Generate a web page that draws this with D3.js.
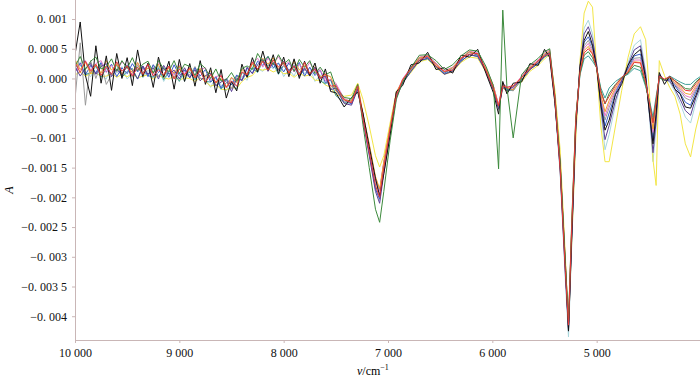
<!DOCTYPE html>
<html>
<head>
<meta charset="utf-8">
<script src="https://cdn.jsdelivr.net/npm/d3@7"></script>
<style>
  body { margin: 0; background: #fff; }
  svg { display: block; }
</style>
</head>
<body>
<svg id="canvas" width="700" height="377"></svg>
<script>
// wavenumber grid, cm-1 (denser where the spectra are noisy)
const wavenumbers = [10000,9950,9900,9850,9800,9750,9700,9650,9600,9550,9500,9450,9400,9350,9300,9250,9200,9150,9100,9050,
  9000,8950,8900,8850,8800,8750,8700,8650,8600,8550,8500,8450,8400,8350,8300,8250,8200,8150,8100,8050,
  8000,7950,7900,7850,7800,7750,7700,7650,7600,7550,7500,
  7420,7350,7290,7240,7180,7120,7080,7040,6980,6920,6860,6780,6700,6620,6540,6460,6380,6300,6220,6140,6060,5990,5940,5900,5860,5800,5720,5640,5560,5500,5450,5400,5350,5300,5270,5240,5200,
  5160,5120,5080,5040,5000,4960,4920,4880,4820,4760,4700,4640,4580,4530,4490,4460,4430,4400,4350,4300,4250,4200,4150,4100,4050,4000];

// absorbance values, in units of 1e-4
const unit = 1e-4;

const lightcyan = [1.1,2.8,1.2,0.3,2.1,0.6,-0.1,2.3,0.9,2.0,-0.1,0.9,2.5,0.1,1.4,0.2,2.1,-0.5,1.0,0.2,
  1.7,-0.5,1.3,-0.3,1.6,-0.2,-1.5,0.2,-1.1,-2.1,0.2,-1.4,0.4,-0.3,2.4,1.6,1.2,2.4,1.6,2.6,
  0.3,1.6,0.4,2.4,0.8,1.8,-0.5,0.6,-1.0,-0.1,-2.1,
  -4.0,-4.3,-1.7,-6.6,-12.4,-18.2,-20.5,-15.3,-9.0,-2.9,-0.7,1.3,3.0,3.3,2.1,0.8,1.3,3.0,3.9,3.8,1.2,-1.7,-5.0,-1.4,-2.0,-1.3,-0.2,1.6,2.6,3.7,4.2,-4.0,-16.0,-34.0,-43.5,-28.5,-9.0,
  2.5,8.5,9.8,7.5,2.4,-5.5,-12.0,-9.4,-4.4,-0.5,2.6,5.6,6.5,1.2,-7.3,-14.0,-8.2,0.7,-0.3,-0.6,-2.2,-4.2,-6.5,-7.5,-4.1,-1.5];

const yellow = [0.6,1.1,0.4,0.8,1.0,0.3,0.4,0.8,0.2,0.7,0.3,0.8,0.1,0.4,0.6,-0.1,0.5,0.1,-0.1,0.4,
  -0.3,0.1,0.0,-0.5,0.1,-0.5,-1.3,-1.0,-1.8,-1.9,-1.5,-1.7,-0.5,0.2,0.5,1.6,1.4,1.6,1.1,1.5,
  0.8,0.9,0.2,0.9,0.4,0.6,-0.3,-0.3,-1.1,-1.5,-2.8,
  -3.0,-2.8,-0.8,-3.5,-8.0,-13.0,-14.9,-13.0,-7.5,-2.2,-0.6,1.0,2.8,3.2,1.8,0.7,1.1,2.7,3.6,3.4,1.0,-1.8,-4.9,-1.6,-2.2,-1.2,-0.6,1.2,2.2,3.3,4.0,-2.0,-12.0,-30.0,-42.0,-28.0,-10.0,
  3.0,11.0,13.0,12.0,2.0,-8.0,-14.0,-14.0,-8.0,-2.0,3.5,7.5,8.7,6.5,-3.6,-13.7,-18.0,3.0,0.5,-1.5,-3.0,-6.0,-11.0,-13.2,-8.5,-5.0];

const teal = [1.8,2.4,0.6,1.0,2.1,0.2,1.7,0.7,2.3,0.2,1.2,1.7,-0.1,1.9,0.5,0.2,1.8,-0.2,1.2,0.9,
  -0.5,1.4,1.0,-0.2,1.4,-0.5,-0.6,0.2,-1.8,-0.7,-1.0,-1.8,1.0,0.3,1.8,1.0,3.0,1.8,2.6,0.7,
  2.2,0.9,2.0,0.3,1.6,0.7,1.6,-0.4,-0.9,-0.2,-2.9,
  -4.0,-3.9,-1.7,-6.0,-11.2,-16.8,-18.8,-14.3,-8.4,-2.9,-0.8,1.2,3.0,3.3,2.0,0.8,1.3,2.9,4.0,3.7,1.2,-1.8,-4.9,-1.3,-2.0,-2.0,-0.3,1.5,2.5,3.6,4.1,-3.8,-15.0,-32.0,-41.5,-26.5,-7.5,
  0.6,3.3,3.8,2.9,1.8,-1.6,-3.3,-1.6,-0.5,0.2,0.7,1.7,1.3,-1.4,-4.0,-6.5,-3.0,0.1,-0.3,0.4,-0.1,-0.6,-1.0,-1.0,-0.2,0.4];

const grey = [-3.5,6.0,-4.5,3.0,0.0,2.5,-1.0,0.6,2.5,0.8,1.9,0.2,2.2,1.2,0.6,2.3,0.3,1.5,1.7,0.1,
  1.9,0.4,0.6,2.0,0.0,-0.1,0.7,-1.3,-0.1,-0.6,-1.7,0.4,-0.2,0.9,2.8,1.1,3.0,2.1,3.2,1.3,
  2.2,1.1,2.7,0.9,1.9,0.5,1.9,0.2,0.2,-1.8,-1.0,
  -4.0,-3.7,-1.6,-6.3,-11.8,-17.2,-19.6,-14.2,-9.1,-2.6,-0.3,1.4,3.4,3.5,2.4,1.1,1.5,3.3,4.4,4.0,1.4,-1.6,-4.9,-1.2,-1.7,-2.1,0.1,1.8,2.7,4.1,4.4,-3.5,-14.7,-31.8,-41.8,-26.0,-7.0,
  1.4,5.5,6.4,4.9,2.0,-3.3,-7.0,-4.9,-2.2,-0.1,1.5,3.4,3.5,-0.3,-5.4,-9.6,-5.2,0.3,-0.3,0.0,-1.0,-2.1,-3.3,-3.7,-1.9,-0.4];

const blue = [1.0,2.6,0.6,2.2,0.9,2.7,1.1,2.4,0.3,1.8,0.8,2.5,1.1,2.1,0.3,2.3,1.0,1.8,0.2,2.3,
  0.5,1.4,0.1,1.8,0.4,1.5,-0.6,0.3,-1.6,0.0,-1.1,0.6,-0.4,1.7,0.9,2.9,2.2,3.7,1.8,2.6,
  1.1,2.6,1.2,2.7,0.4,1.9,0.5,1.4,-0.7,-0.2,-1.9,
  -3.5,-4.3,-1.2,-6.7,-12.5,-18.6,-20.3,-14.8,-8.4,-2.4,-0.6,1.6,3.5,3.5,2.5,0.9,1.8,3.1,4.5,3.9,1.7,-1.3,-4.5,-0.9,-1.9,-1.8,0.2,1.7,2.9,3.9,4.4,-3.2,-14.5,-32.0,-42.0,-26.5,-7.5,
  1.6,6.1,7.0,5.4,2.1,-3.7,-8.0,-5.8,-2.6,-0.2,1.7,3.8,4.1,0.0,-5.8,-10.5,-5.8,0.4,-0.3,-0.1,-1.2,-2.5,-4.0,-4.5,-2.3,-0.6];

const pink = [1.1,2.3,3.0,1.4,2.5,3.0,1.0,2.2,1.2,2.8,2.0,0.6,2.6,1.4,2.3,0.7,2.7,1.4,2.0,0.6,
  2.3,0.8,2.0,0.4,1.5,1.8,-0.2,0.3,0.6,-1.5,0.1,-0.4,1.6,0.8,2.5,3.4,1.9,3.4,2.3,3.7,
  2.1,2.8,1.1,2.4,1.3,2.7,1.1,1.5,-0.4,-0.2,-0.8,
  -3.4,-3.9,-1.2,-6.2,-11.6,-17.0,-19.0,-14.0,-8.6,-2.5,-0.1,1.9,3.6,3.9,2.6,1.3,1.9,3.5,4.6,4.3,1.8,-1.2,-4.4,-0.8,-1.4,-1.6,0.4,2.1,3.1,4.3,4.8,-3.2,-14.0,-31.0,-41.2,-25.5,-6.6,
  1.2,5.1,5.9,4.5,2.0,-3.0,-6.3,-4.3,-1.9,-0.1,1.3,3.1,3.1,-0.5,-5.2,-9.1,-4.8,0.3,-0.3,0.1,-0.8,-1.8,-2.9,-3.2,-1.6,-0.2];

const orange = [3.2,1.5,2.7,0.8,2.3,0.9,3.0,1.4,2.4,0.7,2.1,1.0,2.7,0.7,1.8,0.9,2.4,0.2,1.9,0.9,
  2.1,0.3,1.6,0.1,1.7,0.2,1.3,-0.8,0.0,-1.5,0.2,-0.7,1.5,0.7,2.5,1.3,3.4,2.4,3.5,1.6,
  2.6,0.9,3.0,1.4,2.3,0.8,2.0,0.3,0.6,0.3,-2.1,
  -3.6,-3.8,-1.0,-6.0,-11.0,-16.5,-18.6,-14.0,-8.2,-2.4,-0.3,1.6,3.5,3.7,2.4,1.1,1.8,3.4,4.5,4.1,1.6,-1.3,-4.6,-1.0,-1.6,-1.9,0.1,1.9,2.9,4.1,4.6,-3.0,-13.8,-31.0,-41.0,-25.0,-6.5,
  1.1,4.7,5.4,4.2,1.9,-2.7,-5.6,-3.7,-1.6,0.0,1.2,2.8,2.7,-0.7,-4.9,-8.5,-4.4,0.2,-0.3,0.2,-0.7,-1.5,-2.5,-2.7,-1.3,-0.1];

const purple = [2.0,0.4,1.7,2.5,0.7,2.0,2.5,0.3,1.6,0.5,2.3,1.4,-0.1,2.1,0.7,1.8,-0.1,2.2,0.7,1.4,
  -0.1,1.8,0.1,1.5,-0.4,0.5,0.9,-1.2,-0.6,-0.1,-2.2,0.0,-0.3,1.9,0.8,2.3,3.2,1.2,2.7,1.4,
  2.9,1.3,2.2,0.4,1.7,0.4,1.9,0.1,0.4,-1.9,-1.6,
  -4.2,-4.5,-1.8,-7.0,-13.0,-19.0,-21.0,-16.0,-9.5,-3.2,-0.8,1.2,3.0,3.4,2.0,0.7,1.2,2.9,4.0,3.7,1.1,-1.9,-5.2,-1.5,-2.1,-1.4,-0.3,1.5,2.6,3.7,4.3,-3.8,-15.5,-33.0,-42.5,-27.5,-8.0,
  2.1,7.5,8.7,6.6,2.3,-4.8,-10.3,-7.9,-3.7,-0.4,2.2,4.8,5.5,0.7,-6.7,-12.5,-7.2,0.6,-0.3,-0.4,-1.8,-3.5,-5.4,-6.2,-3.3,-1.1];

const black = [4.0,9.5,0.5,-3.0,5.5,-0.8,3.8,-2.0,4.2,0.0,3.5,-1.2,4.8,0.3,2.6,-1.5,3.6,0.2,2.9,-1.8,
  3.2,-0.5,2.5,-1.3,3.0,-1.0,1.8,-2.4,1.5,-3.3,-0.5,-2.1,2.4,0.2,3.5,1.1,4.6,1.4,4.0,0.8,
  3.6,0.3,3.3,0.0,2.9,0.5,2.6,-0.8,1.6,-2.2,-2.4,
  -4.8,-3.2,-2.3,-5.8,-11.5,-16.8,-19.8,-16.0,-9.6,-2.2,-1.2,2.3,2.6,4.4,1.5,1.8,0.9,3.9,3.6,4.9,0.8,-2.4,-6.0,-0.5,-2.6,-0.8,-0.6,2.5,2.2,4.9,3.5,-4.2,-14.5,-31.5,-42.5,-27.0,-8.0,
  2.0,6.4,7.9,5.6,1.8,-4.4,-8.7,-7.0,-2.7,-1.0,2.2,4.0,4.9,0.0,-6.5,-11.0,-6.0,1.0,-1.0,0.4,-1.8,-2.6,-4.8,-5.0,-2.9,-0.6];

const green = [2.0,3.7,1.5,2.9,3.6,1.6,2.0,3.3,1.2,3.0,1.7,3.5,1.3,2.4,2.9,0.9,3.0,1.6,1.2,3.0,
  0.8,2.4,2.0,0.5,2.5,1.7,0.0,1.6,-0.4,-0.2,1.0,-0.5,1.7,2.1,1.5,4.2,2.8,3.7,2.3,4.0,
  2.4,3.2,1.2,3.2,1.9,3.0,0.8,1.9,0.6,1.1,-1.5,
  -3.2,-3.4,-1.0,-7.8,-15.0,-22.0,-24.2,-19.0,-10.5,-3.5,-0.6,1.8,3.9,4.0,3.0,1.5,2.3,3.8,4.8,4.6,2.0,-1.2,-15.2,11.5,-1.5,-10.0,0.6,2.3,3.4,4.5,5.0,-3.0,-14.0,-31.0,-41.0,-24.5,-6.5,
  0.8,3.9,4.5,3.5,1.8,-2.0,-4.3,-2.5,-1.0,0.1,0.9,2.2,1.9,-1.1,-4.4,-7.3,-3.6,0.2,-0.3,0.3,-0.4,-1.0,-1.7,-1.8,-0.6,0.2];

const red = [2.7,1.0,2.9,1.2,2.4,0.5,2.0,0.7,2.8,1.2,2.1,0.4,1.9,0.7,2.4,0.4,1.5,0.6,2.1,-0.1,
  1.6,0.6,1.8,0.1,1.3,-0.6,0.7,-0.7,0.5,-1.5,-0.4,-1.3,1.1,0.6,2.8,1.6,2.9,1.4,3.1,1.9,
  2.8,0.9,2.1,0.6,2.7,0.8,1.6,-0.1,0.8,-1.3,-1.2,
  -3.6,-4.1,-1.3,-6.8,-12.3,-18.0,-20.0,-15.0,-8.5,-2.9,-0.2,1.7,3.1,3.8,2.1,1.2,1.4,3.4,4.1,4.2,1.3,-1.7,-4.6,-1.3,-1.5,-1.2,0.2,1.6,3.0,3.8,4.2,-3.4,-15.2,-32.5,-41.5,-25.5,-7.2,
  1.2,4.3,5.0,4.1,1.7,-2.3,-4.2,-3.0,-1.2,0.2,1.0,2.7,2.6,-0.6,-4.5,-7.5,-3.8,0.4,-0.1,0.3,-0.4,-1.2,-2.0,-2.1,-0.9,0.1];

// drawing order, back to front
const seriesList = [lightcyan, yellow, teal, grey, blue, pink, orange, purple, black, green, red];
const seriesColors = ['#a9d7dc', '#f3e646', '#3f9f9a', '#9a9a9a', '#3a5fcd', '#e37ac9', '#f0a030', '#5b3f95', '#111111', '#3c8a3c', '#e8383a'];

const xTickValues = [10000, 9000, 8000, 7000, 6000, 5000];
const xTickLabels = ['10 000', '9 000', '8 000', '7 000', '6 000', '5 000'];
const yTickValues = [0.001, 0.0005, 0, -0.0005, -0.001, -0.0015, -0.002, -0.0025, -0.003, -0.0035, -0.004];
const yTickLabels = ['0. 001', '0. 000 5', '0. 000', '\u22120. 000 5', '\u22120. 001', '\u22120. 001 5', '\u22120. 002',
  '\u22120. 002 5', '\u22120. 003', '\u22120. 003 5', '\u22120. 004'];

let svg = d3.select('#canvas');

let plotLeft = 75, plotRight = 701, plotTop = 0, plotBottom = 340;
let fontFamily = '"Liberation Serif", "Times New Roman", "DejaVu Serif", serif';

let x = d3.scaleLinear().domain([10000, 4000]).range([plotLeft, plotRight]);
let y = d3.scaleLinear().domain([-0.0044, 0.00132]).range([plotBottom, plotTop]);

svg.append('clipPath').attr('id', 'plot')
  .append('rect').attr('x', plotLeft).attr('y', plotTop).attr('width', 700 - plotLeft).attr('height', plotBottom - plotTop);

let line = d3.line()
  .x((d, i) => x(wavenumbers[i]))
  .y(d => y(d * unit));

let lines = svg.append('g').attr('clip-path', 'url(#plot)');
seriesList.forEach((s, k) => {
  if (s.length !== wavenumbers.length) console.warn('length mismatch', k, s.length);
  lines.append('path')
    .attr('d', line(s))
    .attr('fill', 'none')
    .attr('stroke', seriesColors[k])
    .attr('stroke-width', 1)
    .attr('stroke-linejoin', 'round');
});

let axisColor = '#c9b6b6';

let xAxis = svg.append('g')
  .attr('transform', `translate(0,${plotBottom})`)
  .call(d3.axisBottom(x).tickValues(xTickValues)
    .tickFormat((d, i) => xTickLabels[i]).tickSize(3).tickSizeOuter(0).tickPadding(5));
xAxis.select('.domain').attr('stroke', axisColor).attr('d', `M${plotLeft},0.5H700`);

let yAxis = svg.append('g')
  .attr('transform', `translate(${plotLeft},0)`)
  .call(d3.axisLeft(y).tickValues(yTickValues)
    .tickFormat((d, i) => yTickLabels[i]).tickSize(3).tickSizeOuter(0).tickPadding(5));
yAxis.select('.domain').attr('stroke', axisColor).attr('d', `M0.5,${plotTop}V${plotBottom}`);

svg.selectAll('.tick line').attr('stroke', axisColor);
svg.selectAll('.tick text')
  .attr('font-family', fontFamily)
  .attr('font-size', 12)
  .attr('fill', '#111');
xAxis.attr('font-family', fontFamily);
yAxis.attr('font-family', fontFamily);

// axis titles
svg.append('text')
  .attr('transform', 'translate(13,190) rotate(-90)')
  .attr('text-anchor', 'middle')
  .attr('font-family', fontFamily)
  .attr('font-style', 'italic')
  .attr('font-size', 12)
  .text('A');

let xt = svg.append('text')
  .attr('x', 357).attr('y', 375)
  .attr('font-family', fontFamily)
  .attr('font-size', 12);
xt.append('tspan').attr('font-style', 'italic').text('v');
xt.append('tspan').text('/cm');
xt.append('tspan').attr('font-size', 8).attr('dy', -5).text('\u22121');
</script>
</body>
</html>
